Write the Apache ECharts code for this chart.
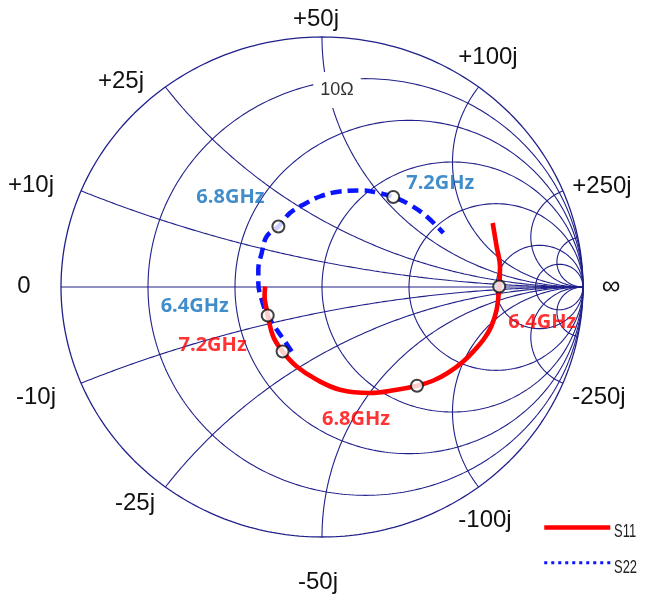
<!DOCTYPE html>
<html>
<head>
<meta charset="utf-8">
<script src="https://cdn.jsdelivr.net/npm/echarts@6/dist/echarts.min.js"></script>
<style>
html,body{margin:0;padding:0;background:#fff;}
#c{width:647px;height:599px;}
</style>
</head>
<body>
<div id="c"></div>
<script>
// ---- Data (reflection coefficient Γ, real / imaginary) ----
const resistanceValues = [0.2, 0.5, 1, 2, 5, 10];      // normalized r circles
const reactanceValues = [0.2, 0.5, 1, 2, 5, 10];       // normalized x arcs (±)
const topTickLabels = ['+10j', '+25j', '+50j', '+100j', '+250j'];
const bottomTickLabels = ['-10j', '-25j', '-50j', '-100j', '-250j'];
const resistanceLabel = '10\u03A9';
const seriesNames = ['S11', 'S22'];

const s11Gamma = [
  [0.654, 0.256], [0.669, 0.162], [0.682, 0.082], [0.679, 0.002], [0.669, -0.091],
  [0.648, -0.159], [0.621, -0.207], [0.586, -0.251], [0.540, -0.299], [0.483, -0.343],
  [0.425, -0.375], [0.364, -0.395], [0.286, -0.411], [0.184, -0.424], [0.069, -0.411],
  [-0.020, -0.371], [-0.097, -0.318], [-0.151, -0.258], [-0.187, -0.198], [-0.208, -0.114],
  [-0.212, -0.091], [-0.220, -0.038], [-0.218, 0.002]
];
const s22Gamma = [
  [-0.116, -0.258], [-0.142, -0.218], [-0.208, -0.114], [-0.231, -0.051], [-0.244, 0.016],
  [-0.244, 0.069], [-0.231, 0.136], [-0.212, 0.202], [-0.167, 0.242], [-0.123, 0.296],
  [-0.072, 0.329], [-0.008, 0.362], [0.069, 0.382], [0.158, 0.386], [0.210, 0.378],
  [0.273, 0.360], [0.337, 0.329], [0.401, 0.282], [0.465, 0.216]
];
const markerFreqs = ['6.4GHz', '6.8GHz', '7.2GHz'];
const s11Markers = [[0.679, 0.002], [0.364, -0.395], [-0.151, -0.258]];
const s22Markers = [[-0.208, -0.114], [-0.167, 0.242], [0.273, 0.360]];

// ---- Layout / style (kept separate from data) ----
const s11LabelOffsets = [[43, 36], [-61, 34], [-70, -6]];
const s22LabelOffsets = [[-73, -9], [-48, -29], [47, -14]];
const topTickPos = [[31, 185], [121, 81], [316, 19], [488, 57], [602, 186]];
const bottomTickPos = [[36, 397], [135, 503], [318, 582], [485, 520], [599, 397]];
const legendTextPos = [[614, 532], [614, 568]];
const GRID_COLOR = '#20208a';

function resistanceCircle(r) {
  const c = r / (1 + r), R = 1 / (1 + r), pts = [];
  for (let i = 0; i <= 360; i++) {
    const t = i * Math.PI / 180;
    pts.push([c + R * Math.cos(t), R * Math.sin(t)]);
  }
  return pts;
}
function reactanceArc(x) {
  const pts = [];
  const N = 600;
  for (let i = 0; i < N; i++) {
    const t = (i / N) * (Math.PI / 2);
    const r = Math.tan(t);
    const d = (r + 1) * (r + 1) + x * x;
    pts.push([(r * r - 1 + x * x) / d, 2 * x / d]);
  }
  pts.push([1, 0]);
  return pts;
}

const gridLine = (data, w) => ({
  type: 'line', data, showSymbol: false, symbol: 'none', silent: true,
  lineStyle: { color: GRID_COLOR, width: w || 1.1 }, z: 1, animation: false, clip: false
});

const series = [];
series.push(gridLine(resistanceCircle(0), 1.3));
resistanceValues.forEach(r => series.push(gridLine(resistanceCircle(r))));
reactanceValues.forEach(x => {
  series.push(gridLine(reactanceArc(x)));
  series.push(gridLine(reactanceArc(-x)));
});
series.push(gridLine([[-1, 0], [1, 0]]));

series.push({
  name: seriesNames[1], type: 'line', data: s22Gamma, symbol: 'none', showSymbol: false, smooth: 0.4,
  itemStyle: { color: '#0a14ff' },
  lineStyle: { color: '#0a14ff', width: 4.5, type: [11, 6] }, z: 3, animation: false
});
series.push({
  name: seriesNames[0], type: 'line', data: s11Gamma, symbol: 'none', showSymbol: false, smooth: 0.4,
  itemStyle: { color: '#ff0000' },
  lineStyle: { color: '#ff0000', width: 4.6 }, z: 4, animation: false
});

function markerSeries(points, offsets, color) {
  return {
    type: 'scatter', z: 6, animation: false, silent: true,
    symbol: 'circle', symbolSize: 12,
    itemStyle: { color: '#ffffff', borderColor: '#111', borderWidth: 2 },
    data: points.map((p, i) => ({
      value: p,
      label: {
        show: true, formatter: markerFreqs[i], position: 'inside', offset: offsets[i],
        color: color, fontSize: 20, fontWeight: 'bold', fontFamily: '"Open Sans", sans-serif'
      }
    }))
  };
}
series.push(markerSeries(s11Markers, s11LabelOffsets, '#ff0000'));
series.push(markerSeries(s22Markers, s22LabelOffsets, '#1270bf'));

const tickFont = '24px "Liberation Sans", Arial, sans-serif';
const graphic = [];
topTickLabels.forEach((t, i) => graphic.push({
  type: 'text', x: topTickPos[i][0], y: topTickPos[i][1], z: 10,
  style: { text: t, font: tickFont, fill: '#111', align: 'center', verticalAlign: 'middle' }
}));
bottomTickLabels.forEach((t, i) => graphic.push({
  type: 'text', x: bottomTickPos[i][0], y: bottomTickPos[i][1], z: 10,
  style: { text: t, font: tickFont, fill: '#111', align: 'center', verticalAlign: 'middle' }
}));
graphic.push({ type: 'text', x: 24, y: 286, z: 10,
  style: { text: '0', font: tickFont, fill: '#111', align: 'center', verticalAlign: 'middle' } });
graphic.push({ type: 'text', x: 611, y: 287, z: 10,
  style: { text: '\u221E', font: '26px "Liberation Sans", sans-serif', fill: '#111', align: 'center', verticalAlign: 'middle' } });
graphic.push({ type: 'text', x: 337, y: 90, z: 10,
  style: { text: resistanceLabel, font: '18px "Liberation Sans", sans-serif', fill: '#333',
    align: 'center', verticalAlign: 'middle', backgroundColor: '#fff', padding: [9, 7] } });
seriesNames.forEach((n, i) => graphic.push({
  type: 'text', x: legendTextPos[i][0], y: legendTextPos[i][1], scaleX: 0.72, z: 10,
  style: { text: n, font: '18px "Liberation Sans", sans-serif', fill: '#222', align: 'left', verticalAlign: 'middle' }
}));

const chart = echarts.init(document.getElementById('c'), null, { renderer: 'canvas' });
chart.setOption({
  animation: false,
  backgroundColor: '#ffffff',
  grid: { left: 61, top: 37, width: 522, height: 500 },
  xAxis: { type: 'value', min: -1, max: 1, show: false },
  yAxis: { type: 'value', min: -1, max: 1, show: false },
  legend: {
    orient: 'vertical', left: 542, top: 522, padding: 0, itemWidth: 66, itemHeight: 14, itemGap: 24,
    itemStyle: { opacity: 0 },
    data: [
      { name: seriesNames[0], lineStyle: { width: 4.5, color: '#ff0000' } },
      { name: seriesNames[1], lineStyle: { type: [3, 4], width: 3, color: '#0a14ff' } }
    ],
    textStyle: { fontSize: 10, color: 'rgba(0,0,0,0)' }
  },
  graphic,
  series
});
</script>
</body>
</html>
